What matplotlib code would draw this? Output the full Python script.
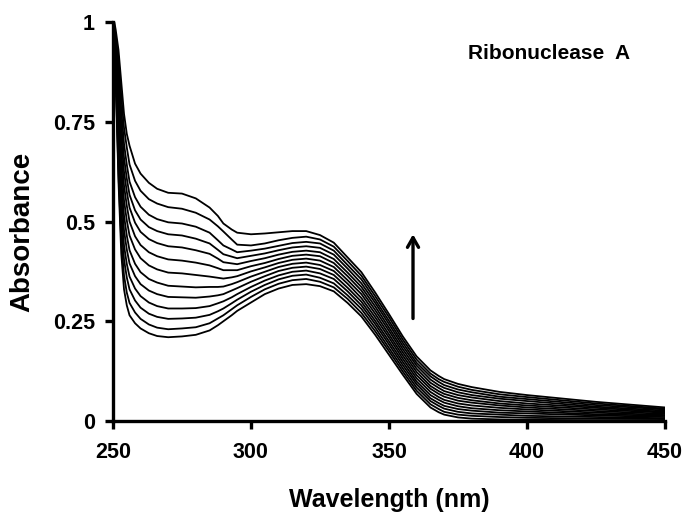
import numpy as np
import matplotlib
matplotlib.use("Agg")
import matplotlib.pyplot as plt

plt.rcParams["font.family"] = ["Liberation Sans", "DejaVu Sans"]
plt.rcParams["font.weight"] = "bold"

wavelength = [250, 251, 252, 253, 254, 255, 256, 258, 260, 263, 266, 270, 275,
              280, 285, 288, 290, 293, 295, 300, 305, 310, 315, 320, 325, 330,
              335, 340, 345, 350, 355, 360, 365, 368, 370, 375, 380, 390, 400,
              425, 450]

# absorbance at each wavelength: the 13 spectra, lowest -> highest
abs_by_wl = {
    250: [1.02, 1.02, 1.02, 1.02, 1.02, 1.02, 1.02, 1.02, 1.02, 1.02, 1.02, 1.02, 1.02],
    251: [.85, .86, .87, .88, .89, .90, .91, .92, .93, .94, .95, .96, .98],
    252: [.60, .62, .65, .68, .71, .74, .77, .80, .83, .86, .88, .91, .93],
    253: [.42, .45, .49, .53, .57, .605, .64, .675, .71, .745, .78, .815, .85],
    254: [.33, .365, .405, .44, .478, .515, .553, .59, .625, .66, .695, .735, .77],
    255: [.29, .322, .36, .394, .43, .465, .503, .54, .575, .608, .643, .686, .72],
    256: [.265, .296, .330, .362, .395, .428, .465, .500, .535, .567, .600, .643, .690],
    258: [.245, .272, .302, .332, .363, .394, .430, .463, .497, .528, .561, .602, .645],
    260: [.232, .256, .284, .313, .343, .373, .408, .441, .474, .505, .537, .577, .620],
    263: [.220, .242, .269, .297, .327, .356, .390, .423, .456, .486, .517, .556, .597],
    266: [.213, .234, .261, .288, .318, .347, .380, .413, .446, .476, .506, .545, .582],
    270: [.210, .230, .256, .282, .311, .339, .372, .405, .438, .468, .498, .536, .572],
    275: [.212, .232, .257, .282, .310, .337, .370, .402, .435, .465, .495, .532, .570],
    280: [.216, .235, .259, .283, .309, .335, .366, .397, .428, .457, .487, .522, .558],
    285: [.227, .245, .266, .288, .312, .336, .362, .390, .419, .445, .472, .505, .535],
    288: [.240, .257, .275, .295, .315, .336, .359, .383, .407, .429, .453, .488, .514],
    290: [.250, .265, .282, .300, .318, .337, .357, .378, .398, .418, .440, .475, .495],
    293: [.265, .280, .295, .310, .327, .343, .360, .378, .395, .412, .430, .455, .480],
    295: [.276, .290, .304, .318, .333, .348, .363, .378, .393, .408, .423, .442, .472],
    300: [.297, .311, .324, .336, .349, .362, .375, .388, .401, .414, .427, .440, .468],
    305: [.318, .330, .341, .352, .363, .374, .385, .396, .408, .420, .432, .445, .470],
    310: [.332, .344, .355, .365, .376, .386, .396, .406, .417, .428, .439, .453, .473],
    315: [.341, .353, .364, .374, .384, .394, .404, .414, .424, .435, .446, .459, .476],
    320: [.343, .356, .367, .377, .387, .397, .407, .417, .427, .438, .449, .462, .476],
    325: [.338, .349, .359, .370, .381, .391, .402, .413, .423, .434, .445, .455, .466],
    330: [.325, .335, .345, .356, .366, .376, .386, .396, .406, .417, .427, .437, .447],
    335: [.296, .306, .315, .325, .334, .344, .353, .363, .372, .382, .391, .401, .410],
    340: [.262, .271, .281, .290, .299, .308, .318, .327, .336, .345, .355, .364, .373],
    345: [.216, .225, .234, .243, .251, .260, .269, .278, .287, .296, .304, .313, .322],
    350: [.166, .175, .183, .192, .200, .209, .217, .226, .234, .243, .251, .260, .268],
    355: [.116, .124, .132, .140, .148, .156, .164, .172, .180, .188, .196, .204, .212],
    360: [.068, .076, .084, .092, .099, .107, .115, .123, .131, .139, .146, .154, .162],
    365: [.034, .042, .050, .057, .065, .073, .081, .088, .096, .104, .112, .119, .127],
    368: [.022, .030, .038, .045, .053, .060, .068, .075, .083, .090, .098, .105, .113],
    370: [.016, .023, .031, .038, .046, .053, .061, .068, .075, .083, .090, .098, .105],
    375: [.009, .016, .023, .030, .037, .044, .051, .058, .065, .072, .079, .086, .093],
    380: [.006, .013, .019, .026, .032, .039, .046, .052, .059, .065, .072, .078, .085],
    390: [.004, .010, .016, .021, .027, .033, .039, .044, .050, .056, .061, .067, .073],
    400: [.003, .008, .013, .019, .024, .029, .034, .039, .044, .050, .055, .060, .065],
    425: [.002, .006, .010, .014, .017, .021, .025, .029, .033, .036, .040, .044, .048],
    450: [.002, .005, .007, .010, .013, .015, .018, .021, .023, .026, .029, .031, .034],
}

x_ticks = [250, 300, 350, 400, 450]
y_ticks = [0, 0.25, 0.5, 0.75, 1]
y_tick_labels = ["0", "0.25", "0.5", "0.75", "1"]

fig = plt.figure(figsize=(6.88, 5.19), dpi=100)
ax = fig.add_axes([0.1642, 0.1888, 0.8024, 0.7688])

spectra = np.array([abs_by_wl[w] for w in wavelength])  # shape (n_wl, 13)
for k in range(spectra.shape[1]):
    ax.plot(wavelength, spectra[:, k], color="black", lw=1.3, solid_joinstyle="round")

ax.set_xlim(250, 450)
ax.set_ylim(0, 1)
ax.set_xticks(x_ticks)
ax.set_yticks(y_ticks)
ax.set_yticklabels(y_tick_labels)

for s in ["top", "right"]:
    ax.spines[s].set_visible(False)
for s in ["left", "bottom"]:
    ax.spines[s].set_linewidth(2.4)
ax.tick_params(direction="out", length=6, width=2.4, labelsize=15.5)
ax.tick_params(axis="x", pad=9)
ax.tick_params(axis="y", pad=7)
for lab in ax.get_xticklabels() + ax.get_yticklabels():
    lab.set_fontweight("bold")

ax.set_xlabel("Wavelength (nm)", fontsize=18, fontweight="bold")
ax.xaxis.set_label_coords(0.5, -0.168)
ax.set_ylabel("Absorbance", fontsize=20, fontweight="bold")
ax.yaxis.set_label_coords(-0.141, 0.475)

ax.text(0.643, 0.922, "Ribonuclease  A", transform=ax.transAxes,
        fontsize=15, fontweight="bold", ha="left", va="center")

ax.annotate("", xy=(358.7, 0.475), xytext=(358.7, 0.25),
            arrowprops=dict(arrowstyle="->,head_length=0.7,head_width=0.4",
                            lw=2.4, color="black"))

fig.savefig("out.png", dpi=100)
